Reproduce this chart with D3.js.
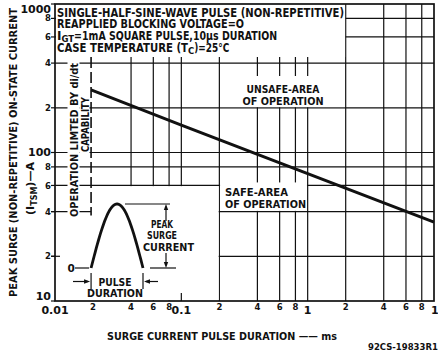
<!DOCTYPE html>
<html lang="en">
    <head>
        <meta charset="utf-8"/>
        <script src="https://d3js.org/d3.v7.min.js"></script>
        <style>
            body { margin: 0; background: #fff; }
            text { font-family: "DejaVu Sans", sans-serif; fill: #111; font-weight: bold; }
        </style>
    </head>
    <body>
        <div id="chart"></div>
    </body>
    <script>
        // surge current rating vs pulse duration (log-log)
        var durations = [0.0193, 0.1, 1, 10];      // ms
        var surgeCurrent = [264, 153, 72, 34];     // A
        var diDtLimit = 0.0193;                    // ms, dashed limit line

        var xTickValues = [0.01, 0.02, 0.04, 0.06, 0.08, 0.1, 0.2, 0.4, 0.6, 0.8, 1, 2, 4, 6, 8, 10];
        var xTickLabels = ["0.01", "2", "4", "6", "8", "0.1", "2", "4", "6", "8", "1", "2", "4", "6", "8", "10"];
        var yTickValues = [10, 20, 40, 60, 80, 100, 200, 400, 600, 800, 1000];
        var yTickLabels = ["10", "2", "4", "6", "8", "100", "2", "4", "6", "8", "1000"];

        var width = 438, height = 357;
        var pL = 55, pR = 434, pT = 4, pB = 301;

        var svg = d3.select("#chart")
            .append("svg")
                .attr("width", width)
                .attr("height", height);

        var x = d3.scaleLog().domain([0.01, 10]).range([pL, pR]);
        var y = d3.scaleLog().domain([10, 1000]).range([pB, pT]);

        var grid = svg.append("g").attr("stroke", "#111").attr("stroke-width", 1.2);

        // horizontal grid
        grid.selectAll(".hg")
            .data(yTickValues.filter(function (v) { return v > 10 && v < 1000; }))
            .enter()
            .append("line")
                .attr("x1", pL).attr("x2", pR)
                .attr("y1", function (d) { return y(d); })
                .attr("y2", function (d) { return y(d); });

        // vertical grid
        grid.selectAll(".vg")
            .data(xTickValues.filter(function (v) { return v > 0.02 && v < 10; }))
            .enter()
            .append("line")
                .attr("y1", pT).attr("y2", pB)
                .attr("x1", function (d) { return x(d); })
                .attr("x2", function (d) { return x(d); });

        // white areas (text box, labels, inset)
        var blank = svg.append("g").attr("fill", "#fff");
        blank.append("rect")   // title block
            .attr("x", pL + 1).attr("y", pT)
            .attr("width", x(2) - pL - 1.6).attr("height", 57 - pT);
        blank.append("rect")   // unsafe label
            .attr("x", x(0.2) + 0.7).attr("y", 76)
            .attr("width", x(2) - x(0.2) - 1.4).attr("height", y(200) - 76 - 0.7);
        blank.append("rect")   // safe label
            .attr("x", x(0.2) + 0.7).attr("y", y(60) - 3)
            .attr("width", x(1) - x(0.2) - 1.4).attr("height", y(40) - y(60) + 2.3);
        blank.append("rect")   // pulse inset
            .attr("x", pL + 1).attr("y", y(60) + 0.7)
            .attr("width", x(0.2) - pL - 1.7).attr("height", pB - y(60) - 1.4);

        // 40 A line inside inset, up to the limit line
        svg.append("line")
            .attr("x1", pL - 4).attr("x2", x(diDtLimit))
            .attr("y1", y(40)).attr("y2", y(40))
            .attr("stroke", "#111").attr("stroke-width", 1.2);
        // 0.1 ms tick inside inset
        svg.append("line")
            .attr("x1", x(0.1)).attr("x2", x(0.1))
            .attr("y1", pB - 8).attr("y2", pB)
            .attr("stroke", "#111").attr("stroke-width", 1.2);
        // 20 A tick
        svg.append("line")
            .attr("x1", pL - 4).attr("x2", pL + 5)
            .attr("y1", y(20)).attr("y2", y(20))
            .attr("stroke", "#111").attr("stroke-width", 1.2);

        // di/dt limit (dashed)
        svg.append("line")
            .attr("x1", x(diDtLimit)).attr("x2", x(diDtLimit))
            .attr("y1", 57).attr("y2", y(40) + 4)
            .attr("stroke", "#111").attr("stroke-width", 1.6)
            .attr("stroke-dasharray", "11,4");

        // left outer ticks
        svg.selectAll(".yt")
            .data(yTickValues)
            .enter()
            .append("line")
                .attr("x1", pL - 4).attr("x2", pL)
                .attr("y1", function (d) { return y(d); })
                .attr("y2", function (d) { return y(d); })
                .attr("stroke", "#111").attr("stroke-width", 1.2);

        // frame
        svg.append("rect")
            .attr("x", pL).attr("y", pT)
            .attr("width", pR - pL).attr("height", pB - pT)
            .attr("fill", "none").attr("stroke", "#111").attr("stroke-width", 1.7);

        // rotated label background + text
        svg.append("rect").attr("fill", "#fff").attr("x", 67.5).attr("y", 61).attr("width", 12).attr("height", 158);
        svg.append("rect").attr("fill", "#fff").attr("x", 79.5).attr("y", 95).attr("width", 10).attr("height", 59);
        svg.append("text")
            .attr("transform", "translate(77.5,140) rotate(-90)")
            .attr("text-anchor", "middle")
            .attr("font-size", 11)
            .attr("textLength", 154).attr("lengthAdjust", "spacingAndGlyphs")
            .text("OPERATION LIMTED BY di/dt");
        svg.append("text")
            .attr("transform", "translate(89,124.5) rotate(-90)")
            .attr("text-anchor", "middle")
            .attr("font-size", 11)
            .attr("textLength", 55).attr("lengthAdjust", "spacingAndGlyphs")
            .text("CAPABILITY");

        // data line
        var pts = durations.map(function (d, i) { return [d, surgeCurrent[i]]; });
        svg.append("path")
            .datum(pts)
            .attr("fill", "none")
            .attr("stroke", "#111")
            .attr("stroke-width", 3)
            .attr("d", d3.line()
                .x(function (d) { return x(d[0]); })
                .y(function (d) { return y(d[1]); }));

        // y tick labels
        svg.selectAll(".yl")
            .data(yTickValues)
            .enter()
            .append("text")
                .attr("x", 51)
                .attr("y", function (d) {
                    if (d === 1000) return pT + 8.5;
                    if (d === 10) return pB - 1;
                    return y(d);
                })
                .attr("dy", function (d) { return (d === 1000 || d === 10) ? 0 : "0.36em"; })
                .attr("text-anchor", "end")
                .attr("font-size", function (d, i) { return /^10/.test(yTickLabels[i]) ? 11 : 8.5; })
                .text(function (d, i) { return yTickLabels[i]; });

        // x tick labels
        svg.selectAll(".xl")
            .data(xTickValues)
            .enter()
            .append("text")
                .attr("x", function (d) { return d === 10 ? x(d) - 3 : x(d); })
                .attr("y", function (d, i) { return xTickLabels[i].length > 1 || d === 1 ? 314 : 310; })
                .attr("text-anchor", function (d) { return d === 10 ? "start" : "middle"; })
                .attr("font-size", function (d, i) { return xTickLabels[i].length > 1 || d === 1 ? 11 : 8.5; })
                .text(function (d, i) { return xTickLabels[i]; });

        // title block
        var tb = svg.append("g").attr("font-size", 12);
        tb.append("text").attr("x", 57).attr("y", 16.5)
            .attr("textLength", 287).attr("lengthAdjust", "spacingAndGlyphs")
            .text("SINGLE-HALF-SINE-WAVE PULSE (NON-REPETITIVE)");
        tb.append("text").attr("x", 57).attr("y", 28)
            .attr("textLength", 187).attr("lengthAdjust", "spacingAndGlyphs")
            .text("REAPPLIED BLOCKING VOLTAGE=O");
        var t3 = tb.append("text").attr("x", 57).attr("y", 39.5);
        t3.append("tspan").text("I");
        t3.append("tspan").attr("font-size", 8.5).attr("dy", 2).text("GT");
        t3.append("tspan").attr("dy", -2).attr("textLength", 203).attr("lengthAdjust", "spacingAndGlyphs")
            .text("=1mA SQUARE PULSE,10\u03bcs DURATION");
        var t4 = tb.append("text").attr("x", 57).attr("y", 51.5);
        t4.append("tspan").attr("textLength", 131).attr("lengthAdjust", "spacingAndGlyphs").text("CASE TEMPERATURE (T");
        t4.append("tspan").attr("font-size", 8.5).attr("dy", 2).text("C");
        t4.append("tspan").attr("dy", -2).attr("textLength", 35).attr("lengthAdjust", "spacingAndGlyphs").text(")=25\u00b0C");

        // area labels
        var al = svg.append("g").attr("font-size", 11).attr("text-anchor", "middle");
        al.append("text").attr("x", 283).attr("y", 93).attr("textLength", 73).attr("lengthAdjust", "spacingAndGlyphs").text("UNSAFE-AREA");
        al.append("text").attr("x", 283).attr("y", 105).attr("textLength", 81).attr("lengthAdjust", "spacingAndGlyphs").text("OF OPERATION");
        var sl = svg.append("g").attr("font-size", 11);
        sl.append("text").attr("x", 225).attr("y", 196).attr("textLength", 63).attr("lengthAdjust", "spacingAndGlyphs").text("SAFE-AREA");
        sl.append("text").attr("x", 225).attr("y", 208).attr("textLength", 81).attr("lengthAdjust", "spacingAndGlyphs").text("OF OPERATION");

        // pulse sketch in inset
        var px0 = x(diDtLimit), px1 = 143, pBase = 268, pTop = 204;
        var sine = d3.range(0, 1.001, 0.02).map(function (t) {
            return [px0 + t * (px1 - px0), pBase - (pBase - pTop) * Math.sin(Math.PI * t)];
        });
        var ink = svg.append("g").attr("stroke", "#111").attr("fill", "none").attr("stroke-width", 1.2);
        ink.append("path").attr("d", d3.line()(sine)).attr("stroke-width", 2.8);
        ink.append("line").attr("x1", 75).attr("x2", px0 - 2).attr("y1", pBase).attr("y2", pBase);
        ink.append("line").attr("x1", 125).attr("x2", 170).attr("y1", pTop).attr("y2", pTop);
        ink.append("line").attr("x1", 150).attr("x2", 176).attr("y1", pBase).attr("y2", pBase);
        ink.append("line").attr("x1", 166).attr("x2", 166).attr("y1", pTop + 3).attr("y2", 221);
        ink.append("line").attr("x1", 166).attr("x2", 166).attr("y1", 253).attr("y2", pBase - 3);
        ink.append("line").attr("x1", px0).attr("x2", px0).attr("y1", 273).attr("y2", 289);
        ink.append("line").attr("x1", px1).attr("x2", px1).attr("y1", 273).attr("y2", 289);
        ink.append("line").attr("x1", 73).attr("x2", px0 - 3).attr("y1", 281.5).attr("y2", 281.5);
        ink.append("line").attr("x1", 158).attr("x2", px1 + 3).attr("y1", 281.5).attr("y2", 281.5);

        var heads = svg.append("g").attr("fill", "#111");
        function arrow(ax, ay, dir) {
            // tip at (ax, ay)
            var p;
            if (dir === "up") p = [[ax, ay], [ax - 2.2, ay + 6], [ax + 2.2, ay + 6]];
            if (dir === "down") p = [[ax, ay], [ax - 2.2, ay - 6], [ax + 2.2, ay - 6]];
            if (dir === "right") p = [[ax, ay], [ax - 6, ay - 2.2], [ax - 6, ay + 2.2]];
            if (dir === "left") p = [[ax, ay], [ax + 6, ay - 2.2], [ax + 6, ay + 2.2]];
            heads.append("path").attr("d", "M" + p.join("L") + "Z");
        }
        arrow(166, pTop, "up");
        arrow(166, pBase, "down");
        arrow(px0 - 1, 281.5, "right");
        arrow(px1 + 1, 281.5, "left");

        var it = svg.append("g").attr("font-size", 10.5);
        it.append("text").attr("x", 67.5).attr("y", 271.5).text("0");
        it.append("text").attr("x", 151).attr("y", 228).attr("textLength", 22).attr("lengthAdjust", "spacingAndGlyphs").text("PEAK");
        it.append("text").attr("x", 147).attr("y", 239).attr("textLength", 30).attr("lengthAdjust", "spacingAndGlyphs").text("SURGE");
        it.append("text").attr("x", 143).attr("y", 250.5).attr("textLength", 51).attr("lengthAdjust", "spacingAndGlyphs").text("CURRENT");
        it.append("text").attr("x", 98.5).attr("y", 286).attr("textLength", 33).attr("lengthAdjust", "spacingAndGlyphs").text("PULSE");
        it.append("text").attr("x", 87).attr("y", 297).attr("textLength", 56).attr("lengthAdjust", "spacingAndGlyphs").text("DURATION");

        // axis titles
        svg.append("text")
            .attr("transform", "translate(16.5,152.5) rotate(-90)")
            .attr("text-anchor", "middle")
            .attr("font-size", 11)
            .attr("textLength", 289).attr("lengthAdjust", "spacingAndGlyphs")
            .text("PEAK SURGE (NON-REPETITIVE) ON-STATE CURRENT");
        var yt2 = svg.append("text")
            .attr("transform", "translate(34,188.5) rotate(-90)")
            .attr("text-anchor", "middle")
            .attr("font-size", 11);
        yt2.append("tspan").text("(I");
        yt2.append("tspan").attr("font-size", 8).attr("dy", 2.5).text("TSM");
        yt2.append("tspan").attr("dy", -2.5).text(")\u2014A");

        svg.append("text")
            .attr("x", 107).attr("y", 340)
            .attr("font-size", 10.5)
            .attr("textLength", 230).attr("lengthAdjust", "spacingAndGlyphs")
            .text("SURGE CURRENT PULSE DURATION \u2014\u2014 ms");

        svg.append("text")
            .attr("x", 368).attr("y", 349.5)
            .attr("font-size", 8.5)
            .text("92CS-19833R1");
    </script>
</html>
